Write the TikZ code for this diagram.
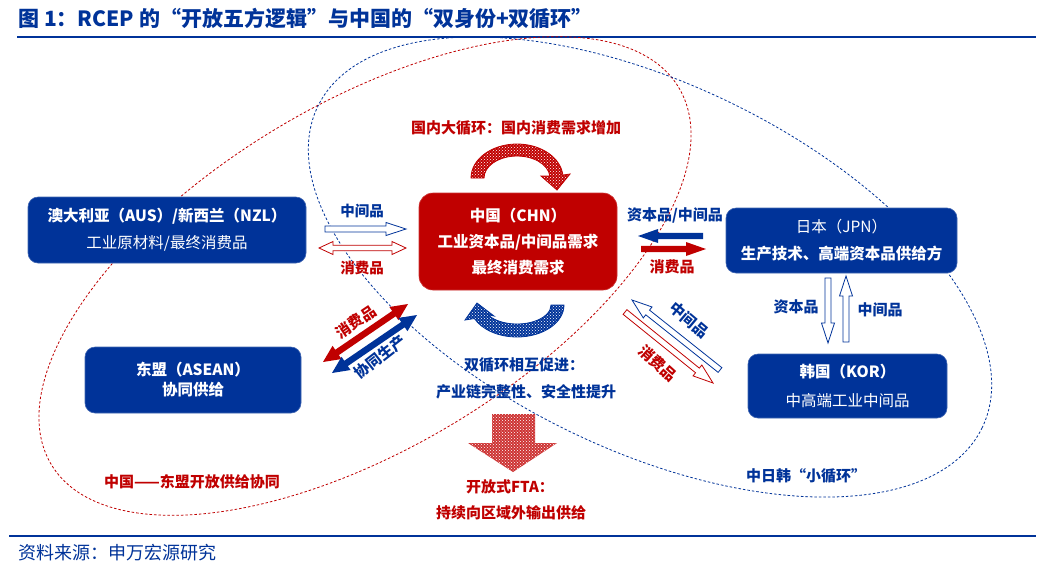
\documentclass[tikz,border=0pt]{standalone}
\usepackage{fontspec}
\setmainfont{Noto Sans CJK SC}
\usetikzlibrary{calc,patterns}
\definecolor{cblue}{RGB}{0,51,153}
\definecolor{cred}{RGB}{192,0,0}
\newcommand{\arrS}[6]{%
  \coordinate (tmpH) at ($(#3)!#6!(#2)$);
  \path[#1] ($(#2)!#4!90:(#3)$) -- ($(tmpH)!#4!-90:(#2)$) -- ($(tmpH)!#5!-90:(#2)$) -- (#3)
    -- ($(tmpH)!#5!90:(#2)$) -- ($(tmpH)!#4!90:(#2)$) -- ($(#2)!#4!-90:(#3)$) -- cycle;}
\newcommand{\arrD}[6]{%
  \coordinate (tmpHa) at ($(#2)!#6!(#3)$);
  \coordinate (tmpHb) at ($(#3)!#6!(#2)$);
  \path[#1] (#2) -- ($(tmpHa)!#5!90:(#3)$) -- ($(tmpHa)!#4!90:(#3)$) -- ($(tmpHb)!#4!-90:(#2)$)
    -- ($(tmpHb)!#5!-90:(#2)$) -- (#3) -- ($(tmpHb)!#5!90:(#2)$) -- ($(tmpHb)!#4!90:(#2)$)
    -- ($(tmpHa)!#4!-90:(#3)$) -- ($(tmpHa)!#5!-90:(#3)$) -- cycle;}
\tikzset{
  box/.style={rounded corners=10pt, inner sep=0pt, align=center, text=white},
  bluebox/.style={box, fill=cblue, draw=cblue!75!white, line width=0.6pt},
  redbox/.style={box, fill=cred, draw=cred!80!white, line width=0.6pt, rounded corners=14pt},
  lab/.style={font=\fontsize{15}{18}\selectfont\bfseries, inner sep=0pt},
  bl/.style={lab, text=cblue},
  rd/.style={lab, text=cred},
  hollowB/.style={draw=cblue, fill=white, line width=0.8pt},
  hollowR/.style={draw=cred, fill=white, line width=0.8pt},
  solidB/.style={fill=cblue},
  solidR/.style={fill=cred},
  reddash/.style={draw=cred, line width=0.8pt, dash pattern=on 2.5pt off 2pt},
  bluedash/.style={draw=cblue, line width=0.8pt, dash pattern=on 2.5pt off 2pt},
  redpat/.style={preaction={fill=cred}, pattern=crosshatch dots, pattern color=white, postaction={draw=cred, line width=0.8pt}},
  bluepat/.style={preaction={fill=cblue}, pattern=crosshatch dots, pattern color=white, postaction={draw=cblue, line width=0.8pt}},
  pinkpat/.style={preaction={fill=cred!80!white}, pattern=crosshatch dots, pattern color=white},
}
\begin{document}
\begin{tikzpicture}[x=1pt,y=-1pt]
\useasboundingbox (0,0) rectangle (1052,566);
\fill[white] (0,0) rectangle (1052,566);

% title and rules
\node[anchor=west, inner sep=0pt, text=cblue, font=\fontsize{21}{25}\selectfont\bfseries] (title) at (18,19) {图 1：RCEP 的“开放五方逻辑”与中国的“双身份+双循环”};
\coordinate (tl1) at (17,37); \coordinate (tl2) at (1036,37);
\draw[cblue, line width=2pt] (tl1) -- (tl2);
\coordinate (bl1) at (9,536); \coordinate (bl2) at (1036,536);
\draw[cblue, line width=1.6pt] (bl1) -- (bl2);
\node[anchor=west, inner sep=0pt, text=cblue, font=\fontsize{18}{21}\selectfont] (source) at (18,553) {资料来源：申万宏源研究};

% dashed ellipses
\draw[reddash, rotate around={31:(365,276)}] (365,276) ellipse [x radius=366, y radius=172];
\draw[bluedash, rotate around={-25.8:(650,267)}] (650,267) ellipse [x radius=369, y radius=183];

% boxes
\node[bluebox, minimum width=278, minimum height=66, font=\fontsize{15.5}{27}\selectfont] (aus) at (167,230)
  {{\bfseries 澳大利亚（AUS）/新西兰（NZL）}\\ 工业原材料/最终消费品};
\node[redbox, minimum width=198, minimum height=97, font=\fontsize{15.5}{26}\selectfont\bfseries] (chn) at (518,241.5)
  {中国（CHN）\\ 工业资本品/中间品需求\\ 最终消费需求};
\node[bluebox, minimum width=231, minimum height=65, font=\fontsize{15.5}{27}\selectfont] (jpn) at (841.5,240.5)
  {日本（JPN）\\ {\bfseries 生产技术、高端资本品供给方}};
\node[bluebox, minimum width=216, minimum height=66, font=\fontsize{15.5}{20}\selectfont\bfseries] (asean) at (193,380)
  {东盟（ASEAN）\\ 协同供给};
\node[bluebox, minimum width=199, minimum height=64, font=\fontsize{15.5}{29}\selectfont] (kor) at (847.5,386)
  {{\bfseries 韩国（KOR）}\\ 中高端工业中间品};

% block arrows
\coordinate (a1t) at (325,229); \coordinate (a1h) at (406,229);
\arrS{hollowB}{a1t}{a1h}{3pt}{6.5pt}{20pt}
\coordinate (a2a) at (319,248); \coordinate (a2b) at (406,248);
\arrD{hollowR}{a2a}{a2b}{2.8pt}{6.5pt}{14pt}
\coordinate (a3t) at (703,236); \coordinate (a3h) at (638,236);
\arrS{solidB}{a3t}{a3h}{3.2pt}{7pt}{20pt}
\coordinate (a4t) at (641,249); \coordinate (a4h) at (706,249);
\arrS{solidR}{a4t}{a4h}{3.2pt}{7pt}{20pt}
\coordinate (a5a) at (323,362); \coordinate (a5b) at (408,304);
\arrD{solidR}{a5a}{a5b}{3.2pt}{8pt}{17pt}
\coordinate (a6a) at (332,373); \coordinate (a6b) at (417,315);
\arrD{solidB}{a6a}{a6b}{3.2pt}{8pt}{17pt}
\coordinate (a7t) at (720,370); \coordinate (a7h) at (632,300);
\arrS{hollowB}{a7t}{a7h}{3pt}{7pt}{20pt}
\coordinate (a8t) at (625,312); \coordinate (a8h) at (713,383);
\arrS{hollowR}{a8t}{a8h}{3pt}{7pt}{20pt}
\coordinate (a9t) at (828,278); \coordinate (a9h) at (828,343);
\arrS{hollowB}{a9t}{a9h}{3pt}{6.5pt}{20pt}
\coordinate (a10t) at (846,342); \coordinate (a10h) at (846,276);
\arrS{hollowB}{a10t}{a10h}{3pt}{6.5pt}{20pt}

% circular arrows
\path[redpat] (471,178) arc[start angle=180, end angle=355, x radius=46, y radius=34]
  -- (570,174) -- (557,190) -- (541,176) -- (549.9,176.1)
  arc[start angle=355, end angle=180, x radius=33, y radius=22] -- cycle;
\path[bluepat] (564,305) arc[start angle=0, end angle=155, x radius=47, y radius=32]
  -- (465,320) -- (477,303) -- (494,316) -- (487.6,314.5)
  arc[start angle=150, end angle=0, x radius=34, y radius=19] -- cycle;
% down arrow
\path[pinkpat] (492,414) -- (535,414) -- (535,443) -- (557,443) -- (513,472) -- (468,443) -- (492,443) -- cycle;

% labels
\node[bl, font=\fontsize{14.5}{17}\selectfont\bfseries] (l1) at (362,211) {中间品};
\node[rd, font=\fontsize{14.5}{17}\selectfont\bfseries] (l2) at (362,268) {消费品};
\node[bl] (l3) at (675,215) {资本品/中间品};
\node[rd] (l4) at (672,267) {消费品};
\node[rd, rotate=34] (l5) at (356,322) {消费品};
\node[bl, rotate=38] (l6) at (380,357) {协同生产};
\node[bl, rotate=-40] (l7) at (689,320) {中间品};
\node[rd, rotate=-42] (l8) at (658,363) {消费品};
\node[bl] (l9) at (796,307) {资本品};
\node[bl] (l10) at (880,310) {中间品};
\node[rd] (dom) at (516,128) {国内大循环：国内消费需求增加};
\node[bl] (dual1) at (524,365) {双循环相互促进：};
\node[bl] (dual2) at (526,392) {产业链完整性、安全性提升};
\node[rd] (fta1) at (510,487) {开放式FTA：};
\node[rd] (fta2) at (511,513) {持续向区域外输出供给};
\node[rd] (casean) at (192,482) {中国——东盟开放供给协同};
\node[bl] (cjk) at (806,476) {中日韩“小循环”};
\end{tikzpicture}
\end{document}
